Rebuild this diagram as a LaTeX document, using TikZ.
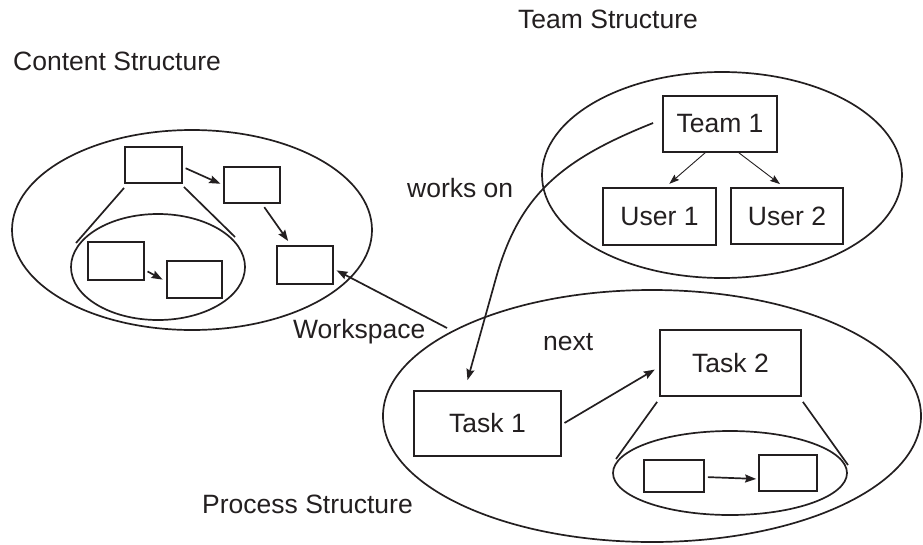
\documentclass[tikz,border=0pt]{standalone}
\usepackage{fontspec}
\setmainfont{Liberation Sans}
\usetikzlibrary{shapes.geometric,arrows.meta}
\definecolor{ink}{HTML}{231F20}
\begin{document}
\begin{tikzpicture}[x=1pt,y=-1pt,
  every node/.style={text=ink},
  lbl/.style={anchor=base west,inner sep=0pt,font=\fontsize{26.5}{30}\selectfont},
  boxn/.style={draw=ink,line width=1.8pt,rectangle,inner sep=0pt,font=\fontsize{26.5}{30}\selectfont},
  ell/.style={draw=ink,line width=1.7pt,ellipse,inner sep=0pt},
  conn/.style={draw=ink,line width=1.7pt},
  arr/.style={conn,-{Stealth[length=11pt,width=8pt,inset=1.5pt]}},
  thinarr/.style={draw=ink,line width=0.9pt,-{Stealth[length=10pt,width=7pt,inset=1.5pt]}}
]
\useasboundingbox (0,0) rectangle (923,544);

% ellipses
\node[ell,minimum width=360pt,minimum height=200pt] (content) at (192,230) {};
\node[ell,minimum width=174pt,minimum height=106pt] (cinner) at (158,267) {};
\node[ell,minimum width=360pt,minimum height=206pt] (team) at (722,175) {};
\node[ell,minimum width=538pt,minimum height=252pt] (process) at (652,416) {};
\node[ell,minimum width=234pt,minimum height=84pt] (pinner) at (730,473) {};

% content boxes
\node[boxn,minimum width=57pt,minimum height=36pt] (A) at (153.5,165) {};
\node[boxn,minimum width=56pt,minimum height=36pt] (B) at (252,185) {};
\node[boxn,minimum width=56pt,minimum height=38pt] (C) at (305,265) {};
\node[boxn,minimum width=56pt,minimum height=38pt] (D) at (116,261) {};
\node[boxn,minimum width=55pt,minimum height=37pt] (E) at (194.5,279.5) {};

% team boxes
\node[boxn,minimum width=114pt,minimum height=56pt] (team1) at (720,124) {Team 1};
\node[boxn,minimum width=113pt,minimum height=57pt] (user1) at (659.5,216.5) {User 1};
\node[boxn,minimum width=112pt,minimum height=56pt] (user2) at (787,216) {User 2};

% process boxes
\node[boxn,minimum width=147pt,minimum height=65pt] (task1) at (487.5,423.5) {Task 1};
\node[boxn,minimum width=141pt,minimum height=66pt] (task2) at (730.5,363) {Task 2};
\node[boxn,minimum width=60pt,minimum height=32pt] (P1) at (674,476) {};
\node[boxn,minimum width=58pt,minimum height=36pt] (P2) at (788,473) {};

% labels
\node[lbl] (lteam) at (518,28) {Team Structure};
\node[lbl] (lcontent) at (13,70) {Content Structure};
\node[lbl] (lprocess) at (202,513) {Process Structure};
\node[lbl] (lworks) at (407,197) {works on};
\node[lbl] (lwork) at (293,338) {Workspace};
\node[lbl] (lnext) at (543,350) {next};

% helper coordinates
\coordinate (cl1) at (76,243);
\coordinate (cl2) at (235,237);
\coordinate (pl1) at (616,459);
\coordinate (pl2) at (848,465);
\coordinate (wsstart) at (447,328);
\coordinate (wbend) at (496,278);

% content connectors
\draw[arr,shorten <=3pt,shorten >=3pt] ([yshift=-2pt]A.east) -- (B.west);
\draw[arr,shorten <=4pt,shorten >=5pt] ([xshift=10pt]B.south) -- ([xshift=-14pt]C.north);
\draw[arr,shorten <=3pt,shorten >=4pt] ([yshift=-9pt]D.east) -- ([yshift=-2pt]E.west);
\draw[conn] ([yshift=-4pt]A.south west) -- (cl1);
\draw[conn] ([xshift=1pt,yshift=-3pt]A.south east) -- (cl2);

% team connectors
\draw[thinarr,shorten >=5pt] ([xshift=-15pt]team1.south) -- ([xshift=6pt]user1.north);
\draw[thinarr,shorten >=5pt] ([xshift=19pt]team1.south) -- ([xshift=-3pt]user2.north);

% process connectors
\draw[arr,shorten <=3pt,shorten >=5pt] ([yshift=-1pt]task1.east) -- ([yshift=-4pt]task2.west);
\draw[arr,shorten <=3pt,shorten >=2pt] ([yshift=-1pt]P1.east) -- ([yshift=-6pt]P2.west);
\draw[conn] ([xshift=-2pt,yshift=-5pt]task2.south west) -- (pl1);
\draw[conn] ([xshift=1pt,yshift=-5pt]task2.south east) -- (pl2);

% workspace and works on
\draw[arr,shorten >=3pt] (wsstart) -- ([yshift=-4pt]C.east);
\draw[arr] ([xshift=-9pt,yshift=1pt]team1.west) .. controls (560,160) and (519,196) .. (wbend) -- ([xshift=-20pt,yshift=10pt]task1.north);
\end{tikzpicture}
\end{document}
